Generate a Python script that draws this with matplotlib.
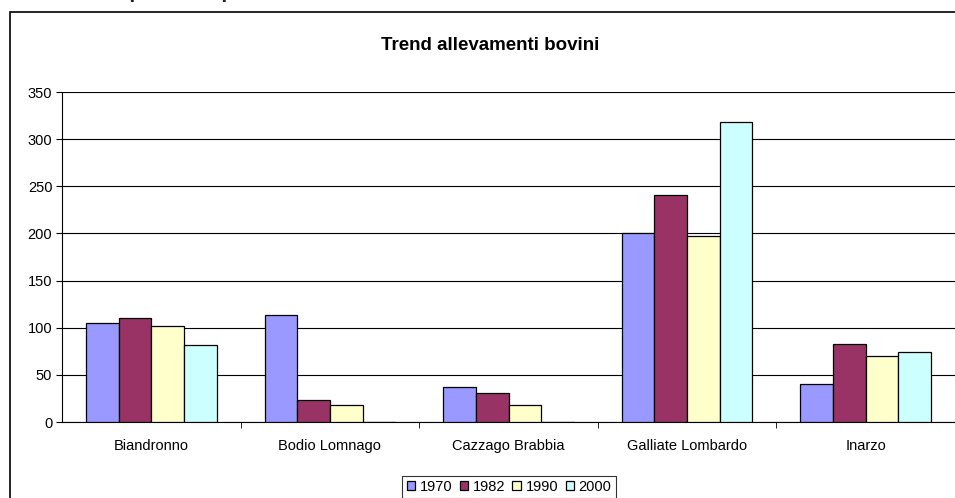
import numpy as np
import matplotlib.pyplot as plt
from matplotlib.patches import Rectangle

plt.rcParams['font.family'] = ['Liberation Sans', 'DejaVu Sans']

comuni = ['Biandronno', 'Bodio Lomnago', 'Cazzago Brabbia', 'Galliate Lombardo', 'Inarzo']
anni = ['1970', '1982', '1990', '2000']
v1970 = [105, 113, 37, 200, 40]
v1982 = [110, 23, 31, 241, 83]
v1990 = [102, 18, 18, 197, 70]
v2000 = [82, 0, 0, 318, 74]
colori = ['#9999FF', '#993366', '#FFFFCC', '#CCFFFF']

fig = plt.figure(figsize=(9.55, 4.98), dpi=100)

# outer chart frame, cut off at right and bottom
fig.patches.append(Rectangle((10 / 955, -0.05), 1.0, 1 - 12 / 498 + 0.05,
                             transform=fig.transFigure, fill=False,
                             edgecolor='black', linewidth=1.2))
# heading cut off at the top of the screenshot
fig.text(-0.003, 1 + 2 / 498, 'Numero di capi bovini presenti nelle aziende del comune',
         fontsize=15, fontweight='bold', color='#222222', va='baseline')

ax = fig.add_axes([62 / 955, 76 / 498, 893 / 955, 330 / 498])

x = np.arange(len(comuni))
w = 0.183
for i, (vals, c) in enumerate(zip([v1970, v1982, v1990, v2000], colori)):
    ax.bar(x + (i - 1.5) * w, vals, w, color=c, edgecolor='black', linewidth=0.9,
           label=anni[i], zorder=3)

ax.set_xlim(-0.5, len(comuni) - 0.5)
ax.set_ylim(0, 350)
ax.set_yticks(range(0, 351, 50))
ax.yaxis.grid(True, color='black', linewidth=0.8, zorder=0)
ax.set_xticks(x)
ax.set_xticklabels(comuni, fontsize=10.5)
ax.set_xticks(np.arange(0.5, len(comuni) - 0.5, 1), minor=True)
ax.tick_params(axis='x', which='major', length=0, pad=12)
ax.tick_params(axis='x', which='minor', length=4, color='black')
ax.tick_params(axis='y', labelsize=10.5, length=4, pad=3)
for s in ['top', 'right']:
    ax.spines[s].set_visible(False)
ax.spines['left'].set_color('black')
ax.spines['bottom'].set_color('black')

fig.text(490 / 955, 1 - 45 / 498, 'Trend allevamenti bovini', fontsize=13.5,
         fontweight='bold', ha='center', va='center')

leg = fig.legend(loc='center', bbox_to_anchor=(509 / 955, 1 - 487 / 498), ncol=4,
                 fontsize=10.5, frameon=True, fancybox=False, handlelength=0.6,
                 handleheight=0.6, handletextpad=0.3, columnspacing=0.5,
                 borderpad=0.3, borderaxespad=0)
leg.get_frame().set_edgecolor('black')
leg.get_frame().set_linewidth(0.8)

fig.savefig('out.png', dpi=100)
